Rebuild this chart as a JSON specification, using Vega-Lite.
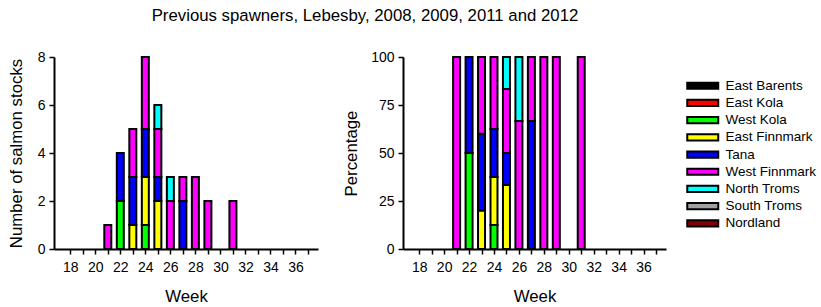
{
  "$schema": "https://vega.github.io/schema/vega-lite/v6.json",
  "autosize": {"type": "none"},
  "width": 612,
  "height": 192,
  "padding": {"left": 54, "top": 57, "right": 155, "bottom": 58},
  "background": "white",
  "title": {"text": "Previous spawners, Lebesby, 2008, 2009, 2011 and 2012", "font": "Liberation Sans", "fontSize": 16.8, "fontWeight": "normal", "color": "black", "anchor": "middle", "frame": "group", "offset": 25, "dx": 5},
  "config": {
    "font": "Liberation Sans",
    "view": {"stroke": null},
    "axis": {"grid": false, "domainColor": "black", "domainWidth": 2, "tickColor": "black", "tickWidth": 1.5, "tickSize": 5, "labelFont": "Liberation Sans", "labelFontSize": 14, "labelColor": "black", "titleFont": "Liberation Sans", "titleFontSize": 16.8, "titleFontWeight": "normal", "titleColor": "black"}
  },
  "datasets": {
    "regions": [
      {"region": "East Barents", "rank": 1},
      {"region": "East Kola", "rank": 2},
      {"region": "West Kola", "rank": 3},
      {"region": "East Finnmark", "rank": 4},
      {"region": "Tana", "rank": 5},
      {"region": "West Finnmark", "rank": 6},
      {"region": "North Troms", "rank": 7},
      {"region": "South Troms", "rank": 8},
      {"region": "Nordland", "rank": 9}
    ],
    "stocks": [
      {"week": 21, "region": "West Finnmark", "n": 1},
      {"week": 22, "region": "West Kola", "n": 2},
      {"week": 22, "region": "Tana", "n": 2},
      {"week": 23, "region": "East Finnmark", "n": 1},
      {"week": 23, "region": "Tana", "n": 2},
      {"week": 23, "region": "West Finnmark", "n": 2},
      {"week": 24, "region": "West Kola", "n": 1},
      {"week": 24, "region": "East Finnmark", "n": 2},
      {"week": 24, "region": "Tana", "n": 2},
      {"week": 24, "region": "West Finnmark", "n": 3},
      {"week": 25, "region": "East Finnmark", "n": 2},
      {"week": 25, "region": "Tana", "n": 1},
      {"week": 25, "region": "West Finnmark", "n": 2},
      {"week": 25, "region": "North Troms", "n": 1},
      {"week": 26, "region": "West Finnmark", "n": 2},
      {"week": 26, "region": "North Troms", "n": 1},
      {"week": 27, "region": "Tana", "n": 2},
      {"week": 27, "region": "West Finnmark", "n": 1},
      {"week": 28, "region": "West Finnmark", "n": 3},
      {"week": 29, "region": "West Finnmark", "n": 2},
      {"week": 31, "region": "West Finnmark", "n": 2}
    ]
  },
  "data": {"name": "stocks"},
  "transform": [
    {"lookup": "region", "from": {"data": {"name": "regions"}, "key": "region", "fields": ["rank"]}}
  ],
  "resolve": {"scale": {"x": "independent", "y": "independent"}, "axis": {"x": "independent", "y": "independent"}},
  "layer": [
    {
      "mark": {"type": "bar", "size": 7, "stroke": "black", "strokeWidth": 2},
      "encoding": {
        "x": {"field": "week", "type": "quantitative", "scale": {"domain": [17.1, 37.4], "nice": false, "zero": false, "range": [0, 264]},
              "axis": {"orient": "bottom", "title": "Week", "values": [18,19,20,21,22,23,24,25,26,27,28,29,30,31,32,33,34,35,36,37], "labelExpr": "datum.value % 2 == 0 ? datum.label : ''", "labelPadding": 6, "titlePadding": 14}},
        "y": {"field": "n", "type": "quantitative", "stack": "zero", "scale": {"domain": [0, 8], "nice": false},
              "axis": {"orient": "left", "title": "Number of salmon stocks", "values": [0,2,4,6,8], "labelPadding": 4, "titlePadding": 12}},
        "order": {"field": "rank", "type": "quantitative", "sort": "ascending"},
        "color": {"field": "region", "type": "nominal",
                  "scale": {"domain": ["East Barents","East Kola","West Kola","East Finnmark","Tana","West Finnmark","North Troms","South Troms","Nordland"],
                            "range": ["#000000","#ff0000","#00ff00","#ffff00","#0000ff","#ff00ff","#00ffff","#a0a0a0","#800000"]},
                  "legend": {"title": null, "orient": "none", "legendX": 642, "legendY": 22, "symbolType": "M-5,-1H5V1H-5Z", "symbolSize": 38.4, "symbolStrokeColor": "black", "symbolStrokeWidth": 2, "labelFont": "Liberation Sans", "labelFontSize": 13.5, "labelColor": "black", "labelOffset": 16, "rowPadding": 2.2}}
      }
    },
    {
      "mark": {"type": "bar", "size": 7, "stroke": "black", "strokeWidth": 2},
      "encoding": {
        "x": {"field": "week", "type": "quantitative", "scale": {"domain": [17.1, 37.4], "nice": false, "zero": false, "range": [349, 612]},
              "axis": {"orient": "bottom", "title": "Week", "values": [18,19,20,21,22,23,24,25,26,27,28,29,30,31,32,33,34,35,36,37], "labelExpr": "datum.value % 2 == 0 ? datum.label : ''", "labelPadding": 6, "titlePadding": 14}},
        "y": {"field": "n", "type": "quantitative", "stack": "normalize", "scale": {"domain": [0, 1], "nice": false},
              "axis": {"orient": "left", "offset": -349, "title": "Percentage", "values": [0,0.25,0.5,0.75,1], "labelExpr": "format(datum.value*100,'d')", "labelPadding": 4, "titlePadding": 10}},
        "order": {"field": "rank", "type": "quantitative", "sort": "ascending"},
        "color": {"field": "region", "type": "nominal",
                  "scale": {"domain": ["East Barents","East Kola","West Kola","East Finnmark","Tana","West Finnmark","North Troms","South Troms","Nordland"],
                            "range": ["#000000","#ff0000","#00ff00","#ffff00","#0000ff","#ff00ff","#00ffff","#a0a0a0","#800000"]}}
      }
    }
  ]
}
